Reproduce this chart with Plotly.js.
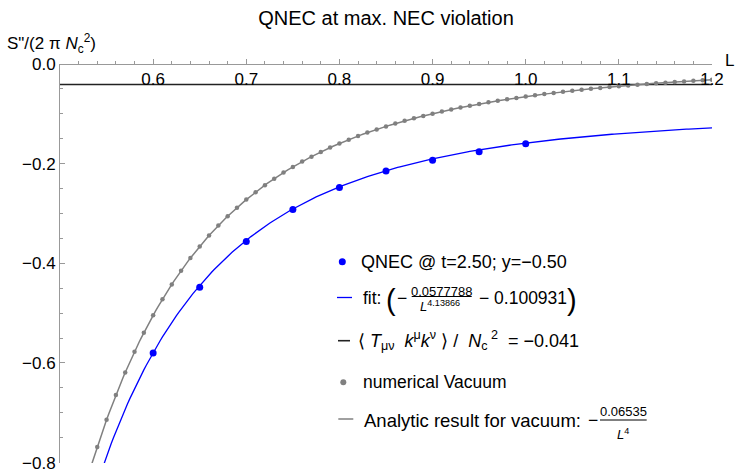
<!DOCTYPE html>
<html>
<head>
<meta charset="utf-8">
<script src="https://cdn.plot.ly/plotly-3.0.1.min.js"></script>
<style>
  html, body { margin: 0; padding: 0; background: #fff; }
  #chart { width: 735px; height: 470px; }
</style>
</head>
<body>
<div id="chart"></div>
<script>
// QNEC sample points at t=2.50, y=-0.50
const qnecL = [0.60, 0.65, 0.70, 0.75, 0.80, 0.85, 0.90, 0.95, 1.00];
const qnecS = [-0.580, -0.448, -0.356, -0.292, -0.248, -0.215, -0.193, -0.176, -0.160];

// numerically computed vacuum values
const vacL = [0.54, 0.55, 0.56, 0.57, 0.58, 0.59, 0.60, 0.61, 0.62, 0.63,
              0.64, 0.65, 0.66, 0.67, 0.68, 0.69, 0.70, 0.71, 0.72, 0.73,
              0.74, 0.75, 0.76, 0.77, 0.78, 0.79, 0.80, 0.81, 0.82, 0.83,
              0.84, 0.85, 0.86, 0.87, 0.88, 0.89, 0.90, 0.91, 0.92, 0.93,
              0.94, 0.95, 0.96, 0.97, 0.98, 0.99, 1.00, 1.01, 1.02, 1.03,
              1.04, 1.05, 1.06, 1.07, 1.08, 1.09, 1.10, 1.11, 1.12, 1.13,
              1.14, 1.15, 1.16, 1.17, 1.18, 1.19, 1.20];
const vacS = [-0.7685, -0.7142, -0.6645, -0.6191, -0.5775, -0.5393, -0.5042, -0.4720, -0.4423, -0.4148,
              -0.3895, -0.3661, -0.3444, -0.3243, -0.3056, -0.2883, -0.2722, -0.2572, -0.2432, -0.2301,
              -0.2179, -0.2065, -0.1959, -0.1859, -0.1765, -0.1678, -0.1595, -0.1518, -0.1445, -0.1377,
              -0.1313, -0.1252, -0.1195, -0.1141, -0.1090, -0.1042, -0.0996, -0.0953, -0.0912, -0.0874,
              -0.0837, -0.0802, -0.0769, -0.0738, -0.0709, -0.0680, -0.0654, -0.0628, -0.0604, -0.0581,
              -0.0559, -0.0538, -0.0518, -0.0499, -0.0480, -0.0463, -0.0446, -0.0430, -0.0415, -0.0401,
              -0.0387, -0.0374, -0.0361, -0.0349, -0.0337, -0.0326, -0.0315];

// fit  -a / L^p - c  and analytic vacuum  -b / L^4
const fitA = 0.0577788;
const fitP = 4.13866;
const fitC = 0.100931;
const vacB = 0.06535;
// <T k k> / Nc^2
const tkk = -0.041;

const xTickVals = [0.6, 0.7, 0.8, 0.9, 1.0, 1.1, 1.2];
const yTickVals = [0.0, -0.2, -0.4, -0.6, -0.8];

const xRange = [0.5, 1.2];
const yRange = [-0.8008, 0.0];

// sampling grid for the smooth curves
const curveL = [];
for (let i = 0; i <= 272; i++) curveL.push(0.52 + i * 0.0025);
const fitCurve = curveL.map(L => -fitA / Math.pow(L, fitP) - fitC);
const vacCurve = curveL.map(L => -vacB / Math.pow(L, 4));

const FONT = 'Liberation Sans, Arial, Helvetica, sans-serif';
const BLUE = '#0000ff';
const GRAY = '#808080';
const AXIS = '#999999';

const traces = [
  { x: xRange, y: [tkk, tkk], mode: 'lines', line: { color: '#222222', width: 1.6 }, hoverinfo: 'skip' },
  { x: curveL, y: vacCurve, mode: 'lines', line: { color: GRAY, width: 1.5 }, hoverinfo: 'skip' },
  { x: vacL, y: vacS, mode: 'markers', marker: { color: GRAY, size: 4.5 } },
  { x: curveL, y: fitCurve, mode: 'lines', line: { color: BLUE, width: 1.3 }, hoverinfo: 'skip' },
  { x: qnecL, y: qnecS, mode: 'markers', marker: { color: BLUE, size: 7 } }
];

// plot-area geometry in pixels, used to place the hand-built legend
const M = { l: 60, r: 23, t: 64, b: 7 };
const W = 735, H = 470;
const pw = W - M.l - M.r, ph = H - M.t - M.b;
const px = x => (x - M.l) / pw;
const py = y => (H - M.b - y) / ph;

function txt(text, x, y, size, xanchor, color) {
  return {
    xref: 'paper', yref: 'paper', x: px(x), y: py(y), text: text,
    showarrow: false, xanchor: xanchor || 'left', yanchor: 'middle',
    borderpad: 0, font: { family: FONT, size: size, color: color || '#000' }
  };
}
function hline(x0, x1, y, color, width) {
  return { type: 'line', xref: 'paper', yref: 'paper', x0: px(x0), x1: px(x1), y0: py(y), y1: py(y),
           line: { color: color, width: width } };
}
function dot(x, y, r, color) {
  return { type: 'circle', xref: 'paper', yref: 'paper', xsizemode: 'pixel', ysizemode: 'pixel',
           xanchor: px(x), yanchor: py(y), x0: -r, x1: r, y0: -r, y1: r,
           fillcolor: color, line: { width: 0 } };
}

const LF = 17.5;
const annotations = [
  txt('S"/(2 π <i>N</i><sub>c</sub><sup>2</sup>)', 6, 43, 17),
  txt('L', 724, 61, 17),

  txt('QNEC @ t=2.50; y=−0.50', 360, 262, 18),

  txt('fit:', 361.7, 298, LF),
  txt('(', 385, 300, 29),
  txt('−', 396, 298, LF),
  txt('0.0577788', 441.7, 291, 13, 'center'),
  txt('<i>L</i><sup>4.13866</sup>', 440, 306, 13, 'center'),
  txt('− 0.100931', 478, 298, LF),
  txt(')', 566, 300, 29),

  txt('⟨&nbsp;<i>T</i><sub>μν</sub>&nbsp; <i>k</i><sup>μ</sup><i>k</i><sup>ν</sup>&nbsp;⟩ /&nbsp; <i>N</i><sub>c</sub><sup>&nbsp;2</sup>&nbsp; = −0.041', 357, 340, 18),

  txt('numerical Vacuum', 361.7, 382, LF),

  txt('Analytic result for vacuum:', 363.3, 420, 18.5),
  txt('−', 587, 420, LF),
  txt('0.06535', 623.3, 411.5, 13, 'center'),
  txt('<i>L</i><sup>4</sup>', 623.3, 434, 13, 'center')
];

const shapes = [
  dot(342.3, 261.7, 3.5, BLUE),
  hline(337, 352, 297.5, BLUE, 1.3),
  hline(411.7, 471.7, 296.5, '#000', 1),
  hline(338, 350, 340.7, '#222222', 1.6),
  dot(343.3, 382.3, 3, GRAY),
  hline(338.3, 353.3, 419, GRAY, 1.5),
  hline(600, 646.7, 420, '#000', 1)
];

const layout = {
  width: W, height: H,
  margin: M,
  paper_bgcolor: '#fff', plot_bgcolor: '#fff',
  showlegend: false,
  font: { family: FONT, color: '#000' },
  title: {
    text: 'QNEC at max. NEC violation',
    font: { family: FONT, size: 20, color: '#000' },
    xref: 'container', yref: 'container',
    x: 386 / W, xanchor: 'center',
    y: 1 - 17.5 / H, yanchor: 'middle'
  },
  xaxis: {
    range: xRange, anchor: 'free', position: 1, side: 'bottom',
    showgrid: false, zeroline: false,
    showline: true, linecolor: AXIS, linewidth: 1,
    tickmode: 'array', tickvals: xTickVals, tickformat: '.1f',
    ticks: 'inside', ticklen: 5, tickcolor: AXIS, tickwidth: 1,
    tickfont: { family: FONT, size: 17, color: '#000' },
    minor: { tickmode: 'linear', tick0: 0.5, dtick: 0.02, ticks: 'inside', ticklen: 3, tickcolor: AXIS, tickwidth: 1, showgrid: false }
  },
  yaxis: {
    range: yRange, domain: [0, 1],
    showgrid: false, zeroline: false,
    showline: true, linecolor: AXIS, linewidth: 1,
    tickmode: 'array', tickvals: yTickVals, tickformat: '.1f',
    ticks: 'inside', ticklen: 5, tickcolor: AXIS, tickwidth: 1,
    ticklabeloverflow: 'allow',
    tickfont: { family: FONT, size: 17, color: '#000' },
    minor: { tickmode: 'linear', tick0: 0, dtick: 0.05, ticks: 'inside', ticklen: 3, tickcolor: AXIS, tickwidth: 1, showgrid: false }
  },
  annotations: annotations,
  shapes: shapes
};

Plotly.newPlot('chart', traces, layout, { displayModeBar: false, staticPlot: true });
</script>
</body>
</html>
